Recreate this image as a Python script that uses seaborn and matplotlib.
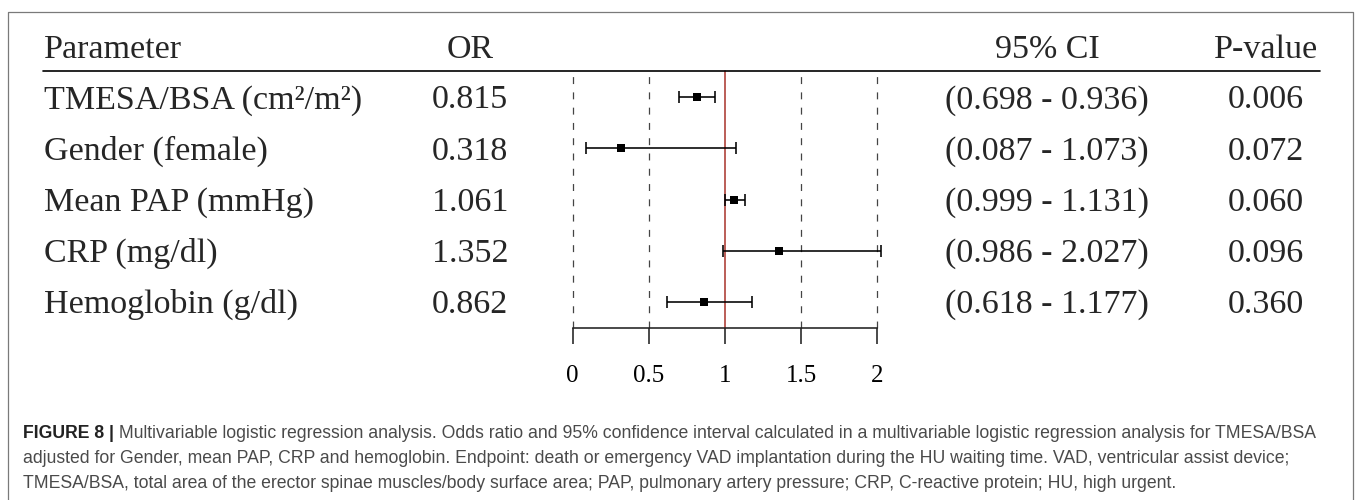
import numpy as np
import pandas as pd
import matplotlib
matplotlib.use("Agg")
import matplotlib.pyplot as plt
import seaborn as sns
from matplotlib.lines import Line2D

# ---------------- data ----------------
parameters = ["TMESA/BSA (cm\u00b2/m\u00b2)", "Gender (female)", "Mean PAP (mmHg)",
              "CRP (mg/dl)", "Hemoglobin (g/dl)"]
odds_ratio = [0.815, 0.318, 1.061, 1.352, 0.862]
ci_lower = [0.698, 0.087, 0.999, 0.986, 0.618]
ci_upper = [0.936, 1.073, 1.131, 2.027, 1.177]
p_values = ["0.006", "0.072", "0.060", "0.096", "0.360"]
headers = ["Parameter", "OR", "95% CI", "P-value"]
x_ticks = [0, 0.5, 1, 1.5, 2]
x_tick_labels = ["0", "0.5", "1", "1.5", "2"]
dashed_refs = [0, 0.5, 1.5, 2]
null_value = 1
caption_bold = "FIGURE 8 |"
caption_lines = [
    " Multivariable logistic regression analysis. Odds ratio and 95% confidence interval calculated in a multivariable logistic regression analysis for TMESA/BSA",
    "adjusted for Gender, mean PAP, CRP and hemoglobin. Endpoint: death or emergency VAD implantation during the HU waiting time. VAD, ventricular assist device;",
    "TMESA/BSA, total area of the erector spinae muscles/body surface area; PAP, pulmonary artery pressure; CRP, C-reactive protein; HU, high urgent.",
]

df = pd.DataFrame({
    "parameter": parameters,
    "OR": odds_ratio,
    "lo": ci_lower,
    "hi": ci_upper,
    "p": p_values,
})
df["row"] = np.arange(len(df))

# ---------------- style ----------------
sns.set_style("white")
plt.rcParams["font.family"] = ["Liberation Serif", "DejaVu Serif"]
plt.rcParams["lines.scale_dashes"] = False

W, H = 1357, 500
fig = plt.figure(figsize=(W / 100, H / 100), dpi=100)


def fx(x):
    return x / W


def fy(y):
    return 1 - y / H


# ---------------- forest axes ----------------
x0_px, x2_px = 572.7, 877.3
top_px, bot_px = 71.4, 327.6
ax = fig.add_axes([fx(x0_px), fy(bot_px), (x2_px - x0_px) / W, (bot_px - top_px) / H])
ax.set_facecolor("none")
ax.set_xlim(0, 2)
ax.set_ylim(len(df) - 0.5, -0.5)

for xv in dashed_refs:
    ax.axvline(xv, ymin=0, ymax=0.99, color="#444444", lw=0.9, ls=(0, (5, 6)),
               zorder=1, clip_on=False)
ax.axvline(null_value, color="#a8322a", lw=1.1, zorder=2, clip_on=False)

eb = ax.errorbar(df["OR"], df["row"],
                 xerr=[df["OR"] - df["lo"], df["hi"] - df["OR"]],
                 fmt="none", ecolor="black", elinewidth=1.15,
                 capsize=4.3, capthick=1.15, zorder=3)
for art in list(eb.lines[1]) + list(eb.lines[2]):
    art.set_clip_on(False)

sns.scatterplot(data=df, x="OR", y="row", marker="s", s=30, color="black",
                edgecolor="black", linewidth=0, ax=ax, zorder=4, legend=False,
                clip_on=False)

for side in ["top", "left", "right"]:
    ax.spines[side].set_visible(False)
ax.spines["bottom"].set_color("#222222")
ax.spines["bottom"].set_linewidth(1.15)
ax.set_xticks(x_ticks)
ax.set_xticklabels(x_tick_labels)
ax.set_yticks([])
ax.tick_params(axis="x", bottom=True, direction="out", length=11.5, width=1.15,
               color="#222222", pad=15.5, labelsize=18, labelcolor="black")
ax.set_xlabel("")
ax.set_ylabel("")

# ---------------- table text ----------------
main_fs = 24.5
col_param_x = 44
col_or_x = 470
col_ci_x = 1047
col_p_x = 1266
header_base = 58
row_base0 = 108.3
row_step = 51.2

fig.text(fx(col_param_x), fy(header_base), headers[0], ha="left", va="baseline", fontsize=main_fs)
fig.text(fx(col_or_x), fy(header_base), headers[1], ha="center", va="baseline", fontsize=main_fs)
fig.text(fx(col_ci_x), fy(header_base), headers[2], ha="center", va="baseline", fontsize=main_fs)
fig.text(fx(col_p_x), fy(header_base), headers[3], ha="center", va="baseline", fontsize=main_fs)

fig.add_artist(Line2D([fx(43), fx(1320)], [fy(71), fy(71)], color="black", lw=1.2))

for i, r in df.iterrows():
    yb = fy(row_base0 + row_step * i)
    fig.text(fx(col_param_x), yb, r["parameter"], ha="left", va="baseline", fontsize=main_fs)
    fig.text(fx(col_or_x), yb, f"{r['OR']:.3f}", ha="center", va="baseline", fontsize=main_fs)
    fig.text(fx(col_ci_x), yb, f"({r['lo']:.3f} - {r['hi']:.3f})", ha="center", va="baseline", fontsize=main_fs)
    fig.text(fx(col_p_x), yb, r["p"], ha="center", va="baseline", fontsize=main_fs)

# ---------------- border ----------------
fig.add_artist(Line2D([fx(7.5), fx(7.5), fx(1352.5), fx(1352.5)],
                      [fy(502), fy(12), fy(12), fy(502)],
                      color="#7a7a7a", lw=0.9))

# ---------------- caption ----------------
cap_family = ["Liberation Sans", "DejaVu Sans"]
cap_color = "#4a4a4a"
cap_fs = 12.4
cap_x = 23
cap_bases = [438, 463, 488]
target_w = 1302

renderer = fig.canvas.get_renderer()
tb = fig.text(fx(cap_x), fy(cap_bases[0]), caption_bold, fontsize=cap_fs, fontweight="bold",
              family=cap_family, color="#222222", va="baseline", ha="left")
tr = fig.text(fx(cap_x), fy(cap_bases[0]), caption_lines[0], fontsize=cap_fs,
              family=cap_family, color=cap_color, va="baseline", ha="left")
wb = tb.get_window_extent(renderer).width
wr = tr.get_window_extent(renderer).width
scale = target_w / (wb + wr)
new_fs = cap_fs * scale
tb.set_fontsize(new_fs)
tr.set_fontsize(new_fs)
wb = tb.get_window_extent(renderer).width
tr.set_x(fx(cap_x + wb))
for line, yb in zip(caption_lines[1:], cap_bases[1:]):
    fig.text(fx(cap_x), fy(yb), line, fontsize=new_fs, family=cap_family,
             color=cap_color, va="baseline", ha="left")

fig.savefig("out.png", dpi=100, facecolor="white")
